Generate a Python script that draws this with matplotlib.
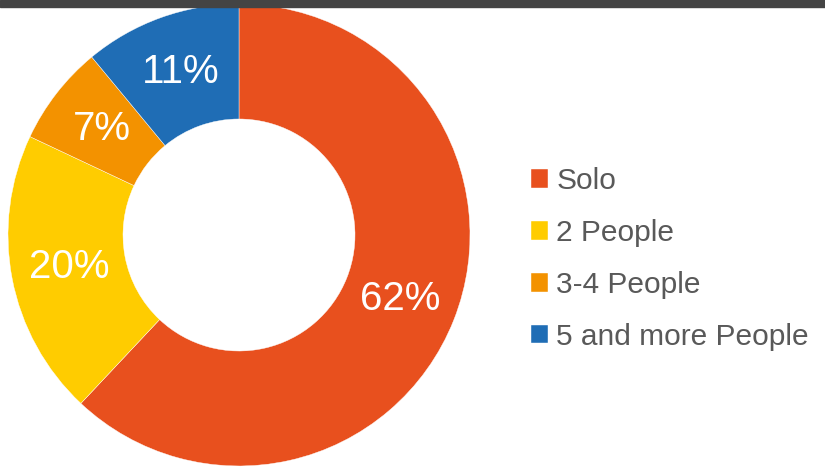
import matplotlib
matplotlib.use("Agg")
from matplotlib import pyplot as plt
from matplotlib.patches import Rectangle

# Data
labels = ["Solo", "2 People", "3-4 People", "5 and more People"]
shares = [62, 20, 7, 11]
colors = ["#E8501E", "#FFCC00", "#F39200", "#1F6DB5"]

plt.rcParams['font.family'] = ['Liberation Sans', 'DejaVu Sans']

W, H = 825, 469
fig = plt.figure(figsize=(W / 100, H / 100), dpi=100)
ax = fig.add_axes([0, 0, 1, 1])

wedges, texts, autotexts = ax.pie(
    shares, colors=colors, startangle=90, counterclock=False,
    center=(239, H - 235), radius=231, frame=True,
    autopct=lambda p: f"{p:.0f}%", pctdistance=0.75,
    wedgeprops=dict(width=115, edgecolor="white", linewidth=0.3),
    textprops=dict(color="white", fontsize=29))
ax.set_xlim(0, W)
ax.set_ylim(0, H)
ax.set_aspect('equal')
ax.axis('off')

# dark band at the top
fig.patches.append(Rectangle((0, 1 - 7 / H), 1, 7 / H, transform=fig.transFigure,
                             color="#444444", zorder=10))

leg = fig.legend(wedges, labels, loc="center left",
                 bbox_to_anchor=(531 / W, 1 - 259 / H), frameon=False,
                 fontsize=21.5, labelcolor="#595959",
                 handlelength=0.57, handleheight=0.57, handletextpad=0.28,
                 labelspacing=0.80, borderpad=0, borderaxespad=0)

fig.savefig("out.png", dpi=100)
